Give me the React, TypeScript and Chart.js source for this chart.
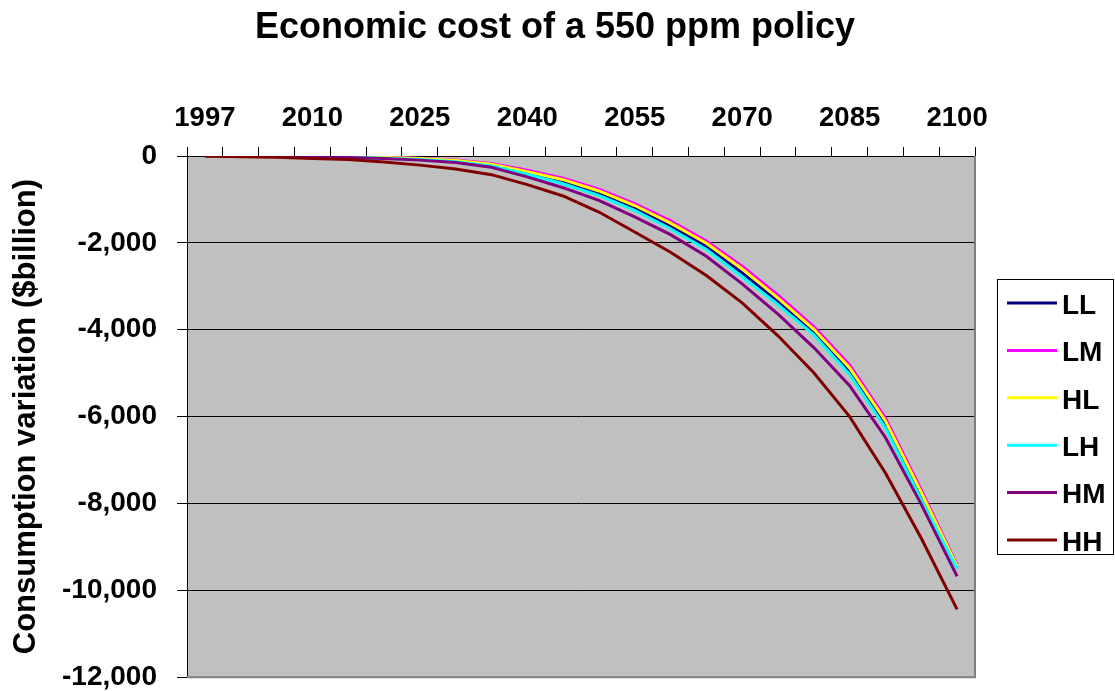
import React, { useEffect, useRef } from "react";
import { Chart, registerables } from "chart.js";

Chart.register(...registerables);

// Category axis: survey years
const YEARS = [
  "1997", "2000", "2005", "2010", "2015", "2020", "2025", "2030", "2035", "2040", "2045",
  "2050", "2055", "2060", "2065", "2070", "2075", "2080", "2085", "2090", "2095", "2100",
];

// Consumption variation per scenario ($billion)
const LL = [0, -2, -6, -12, -24, -42, -70, -118, -210, -390, -590, -855, -1195, -1610, -2080, -2690, -3350, -4060, -4960, -6190, -7840, -9480];
const LM = [0, -2, -4, -8, -15, -30, -50, -90, -170, -330, -510, -765, -1095, -1495, -1955, -2540, -3205, -3925, -4810, -6030, -7690, -9420];
const HL = [0, -2, -5, -10, -20, -35, -60, -105, -190, -360, -545, -805, -1140, -1545, -2010, -2600, -3270, -3990, -4880, -6100, -7750, -9450];
const LH = [0, -3, -8, -15, -28, -50, -80, -130, -230, -420, -640, -905, -1250, -1675, -2150, -2780, -3420, -4120, -5030, -6260, -7920, -9500];
const HM = [0, -5, -10, -20, -35, -60, -95, -150, -260, -480, -730, -1020, -1400, -1810, -2310, -2945, -3640, -4410, -5290, -6480, -8020, -9680];
const HH = [0, -15, -30, -60, -80, -140, -210, -300, -430, -660, -920, -1290, -1750, -2215, -2750, -3380, -4140, -4990, -6000, -7300, -8800, -10440];

const SERIES_NAMES = ["LL", "LM", "HL", "LH", "HM", "HH"];
const SERIES_VALUES = [LL, LM, HL, LH, HM, HH];
const SERIES_COLORS = ["#000080", "#FF00FF", "#FFFF00", "#00FFFF", "#800080", "#800000"];

const Y_MIN = -12000;
const Y_MAX = 0;
const Y_STEP = 2000;
const LABEL_EVERY = 3;

const TITLE = "Economic cost of a 550 ppm policy";
const Y_TITLE = "Consumption variation ($billion)";

const FONT = '"Liberation Sans", Arial, Helvetica, sans-serif';

const VIEW_W = 1115;
const VIEW_H = 691;
const CANVAS_H = 714;

// Grey plot area, grey right/bottom frame, titles and a boxed legend
const decorPlugin = {
  id: "decor",
  beforeDraw(chart: any) {
    const { ctx, chartArea: a } = chart;
    ctx.save();
    ctx.fillStyle = "#C0C0C0";
    ctx.fillRect(a.left, a.top, a.right - a.left, a.bottom - a.top);
    ctx.restore();
  },
  beforeDatasetsDraw(chart: any) {
    const { ctx, chartArea: a } = chart;
    ctx.save();
    ctx.strokeStyle = "#808080";
    ctx.lineWidth = 2;
    ctx.beginPath();
    ctx.moveTo(a.right, a.top);
    ctx.lineTo(a.right, a.bottom);
    ctx.lineTo(a.left, a.bottom);
    ctx.stroke();
    ctx.restore();
  },
  afterDraw(chart: any) {
    const { ctx, chartArea: a } = chart;
    ctx.save();
    ctx.fillStyle = "#000";

    // chart title
    ctx.font = `bold 36px ${FONT}`;
    ctx.textAlign = "center";
    ctx.textBaseline = "alphabetic";
    ctx.fillText(TITLE, 555, 38);

    // vertical axis title
    ctx.save();
    ctx.translate(26, (a.top + a.bottom) / 2);
    ctx.rotate(-Math.PI / 2);
    ctx.font = `bold 31px ${FONT}`;
    ctx.textAlign = "center";
    ctx.textBaseline = "middle";
    ctx.fillText(Y_TITLE, 0, 0);
    ctx.restore();

    // legend
    const boxX = 997.5;
    const boxY = 279.5;
    const boxW = 116;
    const boxH = 275;
    ctx.strokeStyle = "#000";
    ctx.lineWidth = 1;
    ctx.strokeRect(boxX, boxY, boxW, boxH);
    ctx.font = `bold 28px ${FONT}`;
    ctx.textAlign = "left";
    ctx.textBaseline = "middle";
    SERIES_NAMES.forEach((name, k) => {
      const y = 303 + k * 47.4;
      ctx.strokeStyle = SERIES_COLORS[k];
      ctx.lineWidth = 3;
      ctx.beginPath();
      ctx.moveTo(1007, y);
      ctx.lineTo(1057, y);
      ctx.stroke();
      ctx.fillStyle = "#000";
      ctx.fillText(name, 1062, y + 3);
    });
    ctx.restore();
  },
};

export default function App() {
  const canvasRef = useRef<HTMLCanvasElement | null>(null);

  useEffect(() => {
    const canvas = canvasRef.current;
    if (!canvas) return;

    const datasets = SERIES_NAMES.map((name, k) => ({
      label: name,
      data: SERIES_VALUES[k],
      borderColor: SERIES_COLORS[k],
      backgroundColor: SERIES_COLORS[k],
      borderWidth: 3,
      pointRadius: 0,
      tension: 0,
      fill: false,
      // later series are painted on top
      order: SERIES_NAMES.length - 1 - k,
    }));

    const chart = new Chart(canvas, {
      type: "line",
      data: { labels: YEARS, datasets },
      options: {
        responsive: false,
        maintainAspectRatio: false,
        animation: false,
        events: [],
        layout: { padding: { left: 0, top: 0, right: 140, bottom: 15 } },
        plugins: {
          legend: { display: false },
          title: { display: false },
          tooltip: { enabled: false },
        },
        scales: {
          x: {
            type: "category",
            position: "top",
            offset: true,
            grid: {
              offset: true,
              drawOnChartArea: false,
              drawTicks: true,
              tickLength: 9,
              tickColor: "#000",
              tickWidth: 1,
            },
            border: { display: true, color: "#000", width: 1 },
            ticks: {
              autoSkip: false,
              maxRotation: 0,
              minRotation: 0,
              padding: 12,
              color: "#000",
              font: { family: FONT, size: 27.5, weight: "bold" },
              callback: (_v: any, i: number) => (i % LABEL_EVERY === 0 ? YEARS[i] : ""),
            },
            afterFit: (s: any) => {
              s.height = 156;
            },
          },
          y: {
            min: Y_MIN,
            max: Y_MAX,
            grid: {
              color: (c: any) => (c.tick && c.tick.value === Y_MIN ? "#808080" : "#000"),
              lineWidth: 1,
              drawTicks: true,
              tickLength: 10,
              tickColor: "#000",
            },
            border: { display: true, color: "#000", width: 1 },
            ticks: {
              stepSize: Y_STEP,
              padding: 20,
              color: "#000",
              font: { family: FONT, size: 28, weight: "bold" },
              callback: (v: any) => Number(v).toLocaleString("en-US"),
            },
            afterFit: (s: any) => {
              s.width = 187;
            },
          },
        },
      },
      plugins: [decorPlugin],
    } as any);

    return () => chart.destroy();
  }, []);

  return (
    <div
      style={{
        position: "fixed",
        left: 0,
        top: 0,
        width: VIEW_W,
        height: VIEW_H,
        overflow: "hidden",
        background: "#fff",
      }}
    >
      <canvas ref={canvasRef} width={VIEW_W} height={CANVAS_H} style={{ display: "block" }} />
    </div>
  );
}
